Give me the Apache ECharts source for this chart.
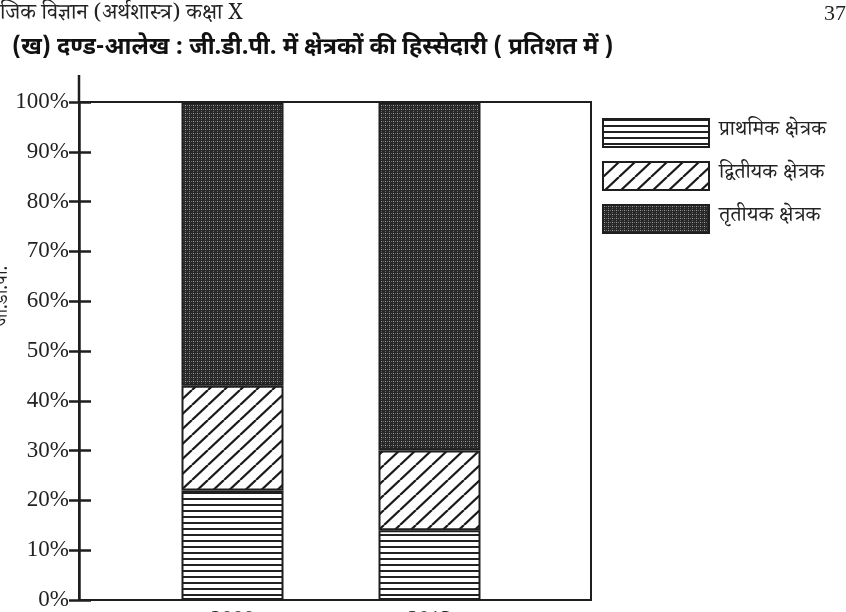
<!DOCTYPE html>
<html>
<head>
<meta charset="utf-8">
<script src="https://cdn.jsdelivr.net/npm/echarts@6/dist/echarts.min.js"></script>
<style>
  html, body { margin: 0; padding: 0; background: #fff; }
  #chart { width: 846px; height: 612px; }
</style>
</head>
<body>
<div id="chart"></div>
<script>
// वर्ष और क्षेत्रकों का हिस्सा (प्रतिशत)
var years = ['2000', '2013'];
var primaryShare = [22, 14];
var secondaryShare = [21, 16];
var tertiaryShare = [57, 70];
var sectorNames = ['प्राथमिक क्षेत्रक', 'द्वितीयक क्षेत्रक', 'तृतीयक क्षेत्रक'];

var hindi = "'Noto Serif Devanagari', 'Noto Sans Devanagari', 'Lohit Devanagari', 'Mangal', serif";
var hindiBold = "'Noto Sans Devanagari', 'Noto Serif Devanagari', 'Lohit Devanagari', sans-serif";
var serif = "'Liberation Serif', 'DejaVu Serif', serif";
var ink = '#1e1e1e';

// pattern tiles
function tile(w, h, draw) {
    var c = document.createElement('canvas');
    c.width = w;
    c.height = h;
    draw(c.getContext('2d'), w, h);
    return c;
}
var hLines = tile(8, 6, function (g, w, h) {
    g.fillStyle = '#fff';
    g.fillRect(0, 0, w, h);
    g.fillStyle = '#222';
    g.fillRect(0, 0, w, 2);
});
var diag = tile(16, 15, function (g, w, h) {
    g.fillStyle = '#fff';
    g.fillRect(0, 0, w, h);
    g.strokeStyle = '#1a1a1a';
    g.lineWidth = 2.2;
    for (var n = 0; n <= 2; n++) {
        g.beginPath();
        g.moveTo(n * w, 0);
        g.lineTo((n - 1) * w, h);
        g.stroke();
    }
});
var dots = tile(4, 4, function (g, w, h) {
    g.fillStyle = '#282828';
    g.fillRect(0, 0, w, h);
    g.fillStyle = '#a0a0a0';
    g.fillRect(1, 1, 1, 1);
    g.fillStyle = '#686868';
    g.fillRect(3, 1, 1, 1);
    g.fillRect(1, 3, 1, 1);
});

function pattern(img) {
    return { image: img, repeat: 'repeat' };
}

var myChart = echarts.init(document.getElementById('chart'));

var option = {
    backgroundColor: '#fff',
    animation: false,
    grid: [
        // frame box with the visible y axis
        { left: 79, top: 102, width: 512, height: 498, show: true, borderColor: ink, borderWidth: 2, outerBoundsMode: 'none', containLabel: false },
        // bars
        { left: 134, top: 102, width: 394, height: 498, outerBoundsMode: 'none', containLabel: false }
    ],
    xAxis: [
        { gridIndex: 0, type: 'category', data: years, show: false },
        {
            gridIndex: 1,
            type: 'category',
            data: years,
            axisLine: { show: false },
            axisTick: { show: false },
            axisLabel: { margin: 8, fontFamily: serif, fontSize: 22, color: '#222' }
        }
    ],
    yAxis: [
        {
            gridIndex: 0,
            type: 'value',
            min: 0,
            max: 100,
            interval: 10,
            axisLine: { show: true, lineStyle: { color: ink, width: 2.5 } },
            axisTick: { show: true, length: 10, lineStyle: { color: ink, width: 2.5 } },
            axisLabel: { formatter: '{value}%', margin: 10, fontFamily: serif, fontSize: 23, color: '#222' },
            splitLine: { show: false }
        },
        {
            gridIndex: 0,
            type: 'value',
            min: 0,
            max: 100,
            interval: 10,
            position: 'left',
            axisLine: { show: false },
            axisTick: { show: true, inside: true, length: 12, lineStyle: { color: ink, width: 2.5 } },
            axisLabel: { show: false },
            splitLine: { show: false }
        },
        { gridIndex: 1, type: 'value', min: 0, max: 100, show: false }
    ],
    legend: {
        orient: 'vertical',
        left: 602,
        top: 118,
        padding: 0,
        icon: 'rect',
        itemWidth: 106,
        itemHeight: 28,
        itemGap: 13,
        data: sectorNames,
        itemStyle: { borderColor: ink, borderWidth: 2 },
        textStyle: { fontFamily: hindi, fontSize: 21, color: '#222', padding: [0, 0, 0, 5] }
    },
    graphic: [
        {
            type: 'text', left: 0, top: 6,
            style: { text: 'जिक विज्ञान (अर्थशास्त्र) कक्षा X', font: '22px ' + hindi, fill: '#222' }
        },
        {
            type: 'text', right: 0, top: 3,
            style: { text: '37', font: '22px ' + serif, fill: '#222' }
        },
        {
            type: 'text', left: 12, top: 38,
            style: { text: '(ख) दण्ड-आलेख : जी.डी.पी. में क्षेत्रकों की हिस्सेदारी ( प्रतिशत में )', font: 'bold 23.5px ' + hindiBold, fill: '#111' }
        },
        {
            type: 'text', x: 5, y: 296, rotation: Math.PI / 2,
            style: { text: 'जी.डी.पी.', font: '19px ' + hindi, fill: '#222', align: 'center', verticalAlign: 'middle' }
        },
        {
            type: 'line',
            shape: { x1: 79, y1: 75, x2: 79, y2: 103 },
            style: { stroke: ink, lineWidth: 2.5 }
        }
    ],
    series: [
        {
            name: sectorNames[0], type: 'bar', stack: 'gdp', xAxisIndex: 1, yAxisIndex: 2,
            barWidth: 102, data: primaryShare,
            itemStyle: { color: pattern(hLines), borderColor: ink, borderWidth: 2 }
        },
        {
            name: sectorNames[1], type: 'bar', stack: 'gdp', xAxisIndex: 1, yAxisIndex: 2,
            barWidth: 102, data: secondaryShare,
            itemStyle: { color: pattern(diag), borderColor: ink, borderWidth: 2 }
        },
        {
            name: sectorNames[2], type: 'bar', stack: 'gdp', xAxisIndex: 1, yAxisIndex: 2,
            barWidth: 102, data: tertiaryShare,
            itemStyle: { color: pattern(dots), borderColor: ink, borderWidth: 2 }
        }
    ]
};

myChart.setOption(option);
</script>
</body>
</html>
